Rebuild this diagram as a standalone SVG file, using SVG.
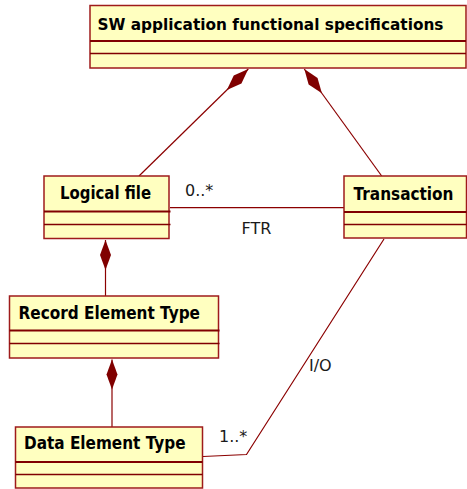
<svg xmlns="http://www.w3.org/2000/svg" width="467" height="489" viewBox="0 0 467 489">
  <style>
    .box { fill: #FFFFC0; stroke: #9E1B1B; stroke-width: 1.5; }
    .div1 { stroke: #800000; stroke-width: 2; }
    .div2 { stroke: #800000; stroke-width: 1.3; }
    .name { font-family: "DejaVu Sans", Verdana, sans-serif; font-weight: bold; font-size: 17px; fill: #000; }
    .title { font-size: 16px; }
    .lbl { font-family: "DejaVu Sans", Verdana, sans-serif; font-size: 16px; fill: #1a1a1a; }
    .conn { fill: none; stroke: #8B0000; stroke-width: 1.2; }
  </style>
  <defs>
    <!-- filled composition diamond, tip at the path end -->
    <marker id="composite" markerUnits="userSpaceOnUse" markerWidth="32" markerHeight="14" viewBox="-31 -7 32 14" refX="0" refY="0" orient="auto">
      <path d="M0,0 L-15,-5.5 L-30,0 L-15,5.5 Z" fill="#800000"/>
    </marker>
  </defs>

  <!-- connectors -->
  <g id="connectors">
    <path class="conn" d="M139,176 L248.3,69" marker-end="url(#composite)"/>
    <path class="conn" d="M381.7,176 L304.3,69" marker-end="url(#composite)"/>
    <path class="conn" d="M105.5,296 L105.5,240" marker-end="url(#composite)"/>
    <path class="conn" d="M112,427 L112,359.5" marker-end="url(#composite)"/>
    <path class="conn" d="M170,207.7 L344,207.7"/>
    <path class="conn" d="M384,239 L246.5,454.5 L203,456.5"/>
    <text class="lbl" x="185" y="195.5">0..*</text>
    <text class="lbl" x="241.5" y="234">FTR</text>
    <text class="lbl" x="309" y="371">I/O</text>
    <text class="lbl" x="219" y="442">1..*</text>
  </g>

  <g id="sw-spec">
    <rect class="box" x="90" y="5.5" width="376" height="62.5"/>
    <line class="div1" x1="90" y1="41" x2="466" y2="41"/>
    <line class="div2" x1="90" y1="53.5" x2="466" y2="53.5"/>
    <text class="name title" x="97.5" y="29.5" textLength="346" lengthAdjust="spacingAndGlyphs">SW application functional specifications</text>
  </g>

  <g id="logical-file">
    <rect class="box" x="44" y="176" width="125" height="62.5"/>
    <line class="div1" x1="44" y1="211.5" x2="170.5" y2="211.5"/>
    <line class="div2" x1="44" y1="224.5" x2="170.5" y2="224.5"/>
    <text class="name" x="60" y="199" textLength="91" lengthAdjust="spacingAndGlyphs">Logical file</text>
  </g>

  <g id="transaction">
    <rect class="box" x="344" y="176" width="122.5" height="62"/>
    <line class="div1" x1="344" y1="212" x2="466.5" y2="212"/>
    <line class="div2" x1="344" y1="224.5" x2="466.5" y2="224.5"/>
    <text class="name" x="353.5" y="199.5" textLength="100" lengthAdjust="spacingAndGlyphs">Transaction</text>
  </g>

  <g id="record-element-type">
    <rect class="box" x="9.5" y="296" width="209" height="62"/>
    <line class="div1" x1="9.5" y1="330.5" x2="219.5" y2="330.5"/>
    <line class="div2" x1="9.5" y1="343.5" x2="219.5" y2="343.5"/>
    <text class="name" x="18.5" y="318.5" textLength="181.5" lengthAdjust="spacingAndGlyphs">Record Element Type</text>
  </g>

  <g id="data-element-type">
    <rect class="box" x="15.5" y="427" width="187" height="61"/>
    <line class="div1" x1="15.5" y1="462" x2="202.5" y2="462"/>
    <line class="div2" x1="15.5" y1="474.5" x2="202.5" y2="474.5"/>
    <text class="name" x="24" y="449" textLength="161.5" lengthAdjust="spacingAndGlyphs">Data Element Type</text>
  </g>
</svg>
